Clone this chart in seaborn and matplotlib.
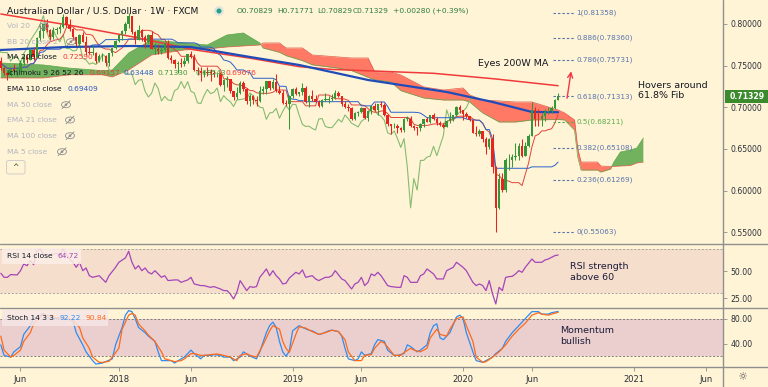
import numpy as np
import pandas as pd
import matplotlib
matplotlib.use("Agg")
import matplotlib.pyplot as plt
from matplotlib.patches import Rectangle, Ellipse, FancyBboxPatch
from matplotlib.lines import Line2D
from matplotlib.ticker import FormatStrFormatter
import seaborn as sns

sns.set_theme(style="white")
plt.rcParams["font.family"] = ["DejaVu Sans"]

# ---------------------------------------------------------------- data
week_start = "2017-04-24"
origin_week = "2017-05-01"
first_open = 0.7560

close = [0.7473, 0.7410, 0.7385, 0.7455, 0.7440, 0.7440, 0.7532, 0.7606, 0.7572, 0.7686,
         0.7600, 0.7837, 0.7915, 0.7999, 0.7928, 0.7840, 0.7928, 0.7944, 0.7963, 0.8085,
         0.7989, 0.7935, 0.7838, 0.7760, 0.7864, 0.7787, 0.7659, 0.7657, 0.7657, 0.7553,
         0.7610, 0.7610, 0.7527, 0.7646, 0.7710, 0.7801, 0.7863, 0.7921, 0.7998, 0.8100,
         0.7904, 0.7808, 0.7928, 0.7843, 0.7786, 0.7872, 0.7705, 0.7705, 0.7677, 0.7683,
         0.7758, 0.7588, 0.7568, 0.7517, 0.7534, 0.7514, 0.7556, 0.7636, 0.7606, 0.7448,
         0.7439, 0.7407, 0.7428, 0.7415, 0.7413, 0.7398, 0.7399, 0.7272, 0.7323, 0.7335,
         0.7193, 0.7124, 0.7168, 0.7292, 0.7225, 0.7076, 0.7131, 0.7089, 0.7080, 0.7200,
         0.7222, 0.7310, 0.7228, 0.7308, 0.7191, 0.7173, 0.7053, 0.7045, 0.7140, 0.7214,
         0.7164, 0.7180, 0.7232, 0.7068, 0.7140, 0.7096, 0.7067, 0.7010, 0.7088, 0.7093,
         0.7100, 0.7107, 0.7172, 0.7139, 0.7045, 0.7001, 0.6994, 0.6855, 0.6932, 0.6940,
         0.6987, 0.6869, 0.6951, 0.7020, 0.6968, 0.7036, 0.7033, 0.6906, 0.6795, 0.6770,
         0.6773, 0.6746, 0.6728, 0.6860, 0.6865, 0.6771, 0.6757, 0.6756, 0.6803, 0.6856,
         0.6823, 0.6908, 0.6862, 0.6809, 0.6788, 0.6764, 0.6832, 0.6862, 0.6902, 0.7009,
         0.6962, 0.6915, 0.6892, 0.6843, 0.6694, 0.6675, 0.6716, 0.6625, 0.6518, 0.6624,
         0.6283, 0.5793, 0.6145, 0.6006, 0.6362, 0.6363, 0.6402, 0.6414, 0.6532, 0.6419,
         0.6539, 0.6660, 0.6969, 0.6856, 0.6855, 0.6899, 0.6945, 0.6952, 0.6995, 0.70829,
         0.71329]
high = [0.7608, 0.7485, 0.7425, 0.7475, 0.7517, 0.7480, 0.7565, 0.7635, 0.7636, 0.7713,
        0.7720, 0.7839, 0.7990, 0.8000, 0.8065, 0.7940, 0.7960, 0.7960, 0.8000, 0.8125,
        0.8100, 0.8060, 0.7950, 0.7840, 0.7880, 0.7898, 0.7850, 0.7730, 0.7730, 0.7660,
        0.7635, 0.7650, 0.7630, 0.7650, 0.7715, 0.7812, 0.7870, 0.7925, 0.8020, 0.8136,
        0.8100, 0.7920, 0.7989, 0.7935, 0.7870, 0.7875, 0.7917, 0.7775, 0.7760, 0.7720,
        0.7780, 0.7812, 0.7630, 0.7580, 0.7550, 0.7590, 0.7605, 0.7640, 0.7677, 0.7640,
        0.7480, 0.7480, 0.7450, 0.7485, 0.7455, 0.7450, 0.7410, 0.7420, 0.7345, 0.7380,
        0.7330, 0.7200, 0.7240, 0.7310, 0.7315, 0.7230, 0.7160, 0.7150, 0.7130, 0.7260,
        0.7260, 0.7315, 0.7320, 0.7340, 0.7395, 0.7250, 0.7210, 0.7090, 0.7145, 0.7235,
        0.7240, 0.7185, 0.7295, 0.7250, 0.7150, 0.7205, 0.7150, 0.7090, 0.7105, 0.7170,
        0.7140, 0.7160, 0.7206, 0.7190, 0.7140, 0.7070, 0.7040, 0.7000, 0.6940, 0.6960,
        0.7000, 0.6990, 0.6970, 0.7020, 0.7050, 0.7040, 0.7080, 0.7050, 0.6920, 0.6800,
        0.6810, 0.6800, 0.6760, 0.6870, 0.6895, 0.6890, 0.6790, 0.6765, 0.6810, 0.6860,
        0.6880, 0.6910, 0.6930, 0.6880, 0.6830, 0.6810, 0.6845, 0.6940, 0.6910, 0.7020,
        0.7030, 0.6970, 0.6940, 0.6890, 0.6850, 0.6770, 0.6740, 0.6720, 0.6640, 0.6630,
        0.6685, 0.6300, 0.6215, 0.6210, 0.6390, 0.6445, 0.6440, 0.6570, 0.6570, 0.6615,
        0.6580, 0.6685, 0.7064, 0.7000, 0.6975, 0.6930, 0.6975, 0.7000, 0.7010, 0.7100,
        0.71771]
low = [0.7450, 0.7385, 0.7329, 0.7370, 0.7420, 0.7375, 0.7430, 0.7510, 0.7530, 0.7565,
       0.7570, 0.7595, 0.7790, 0.7830, 0.7905, 0.7807, 0.7820, 0.7880, 0.7891, 0.7950,
       0.7962, 0.7910, 0.7810, 0.7733, 0.7740, 0.7780, 0.7625, 0.7640, 0.7625, 0.7532,
       0.7540, 0.7550, 0.7500, 0.7500, 0.7620, 0.7700, 0.7785, 0.7810, 0.7880, 0.7955,
       0.7885, 0.7759, 0.7810, 0.7800, 0.7712, 0.7767, 0.7695, 0.7640, 0.7645, 0.7645,
       0.7670, 0.7575, 0.7535, 0.7470, 0.7412, 0.7480, 0.7500, 0.7530, 0.7590, 0.7440,
       0.7385, 0.7310, 0.7360, 0.7380, 0.7310, 0.7360, 0.7360, 0.7260, 0.7200, 0.7240,
       0.7170, 0.7085, 0.7100, 0.7160, 0.7200, 0.7040, 0.7020, 0.7040, 0.7020, 0.7060,
       0.7160, 0.7165, 0.7210, 0.7220, 0.7180, 0.7165, 0.7040, 0.7015, 0.6740, 0.7110,
       0.7150, 0.7140, 0.7150, 0.7055, 0.7000, 0.7070, 0.7060, 0.7000, 0.7000, 0.7070,
       0.7050, 0.7080, 0.7095, 0.7120, 0.7010, 0.6990, 0.6960, 0.6850, 0.6850, 0.6900,
       0.6930, 0.6865, 0.6832, 0.6925, 0.6960, 0.6910, 0.7000, 0.6895, 0.6770, 0.6675,
       0.6750, 0.6690, 0.6700, 0.6700, 0.6840, 0.6760, 0.6725, 0.6670, 0.6720, 0.6760,
       0.6820, 0.6810, 0.6850, 0.6790, 0.6770, 0.6755, 0.6760, 0.6810, 0.6840, 0.6890,
       0.6930, 0.6850, 0.6870, 0.6830, 0.6690, 0.6660, 0.6660, 0.6585, 0.6435, 0.6500,
       0.6215, 0.5506, 0.5780, 0.5980, 0.5980, 0.6250, 0.6285, 0.6370, 0.6370, 0.6400,
       0.6420, 0.6520, 0.6650, 0.6780, 0.6780, 0.6780, 0.6830, 0.6925, 0.6930, 0.6980,
       0.70829]

ma200_wk = [-1, 20, 39, 58, 75, 90, 100, 131, 150, 169]
ma200 = [0.8120, 0.7985, 0.7848, 0.7690, 0.7590, 0.7488, 0.7455, 0.7408, 0.7340, 0.7259]
ema110_wk = [-1, 19, 39, 57, 75, 90, 111, 125, 135, 149, 161, 169]
ema110 = [0.7688, 0.7724, 0.7736, 0.7724, 0.7604, 0.7508, 0.7328, 0.7244, 0.7184, 0.7064, 0.6944, 0.69409]

cloud_wk = [-1, 12, 20, 30, 33, 38, 45, 55, 62, 68,
            73, 78, 79, 84, 86, 91, 94, 102, 106, 111,
            113, 118, 121, 128, 134, 140, 142, 146, 151, 156,
            161, 169, 171, 174, 175, 176, 181, 182, 185, 186,
            188, 191, 193, 195]
lead_a = [0.7532, 0.7508, 0.7470, 0.7440, 0.7448, 0.7652, 0.7808, 0.7772, 0.7748, 0.7868,
          0.7892, 0.7772, 0.7712, 0.7660, 0.7620, 0.7560, 0.7510, 0.7470, 0.7440, 0.7360,
          0.7330, 0.7304, 0.7200, 0.7112, 0.7088, 0.7088, 0.7064, 0.6932, 0.6824, 0.6824,
          0.6848, 0.6854, 0.6848, 0.6727, 0.6400, 0.6247, 0.6247, 0.6223, 0.6260, 0.6340,
          0.6463, 0.6487, 0.6511, 0.6631]
lead_b = [0.7352, 0.7352, 0.7390, 0.7390, 0.7364, 0.7448, 0.7628, 0.7688, 0.7700, 0.7724,
          0.7736, 0.7748, 0.7772, 0.7772, 0.7712, 0.7712, 0.7628, 0.7604, 0.7592, 0.7592,
          0.7430, 0.7424, 0.7388, 0.7244, 0.7208, 0.7232, 0.7148, 0.7088, 0.7076, 0.7064,
          0.7064, 0.6968, 0.6932, 0.6848, 0.6500, 0.6343, 0.6343, 0.6295, 0.6290, 0.6290,
          0.6295, 0.6300, 0.6331, 0.6343]

rsi_wk = [-1, 0, 1, 2, 4, 5, 6, 7, 8, 9, 10, 11, 12, 13, 14, 16, 17, 18, 20, 21,
          22, 23, 24, 25, 26, 27, 29, 30, 31, 32, 34, 35, 37, 38, 39, 40, 41, 42, 43, 44,
          45, 46, 48, 49, 50, 52, 53, 54, 56, 57, 58, 60, 61, 62, 63, 64, 66, 67, 68, 69,
          70, 71, 72, 73, 74, 75, 76, 77, 78, 79, 80, 81, 82, 83, 84, 85, 86, 87, 89, 90,
          91, 92, 94, 95, 96, 98, 99, 100, 101, 103, 104, 106, 107, 108, 109, 110, 111, 112, 113, 114,
          115, 117, 118, 120, 121, 122, 123, 124, 126, 127, 128, 129, 131, 132, 134, 135, 137, 138, 140, 141,
          143, 144, 145, 146, 147, 148, 149, 150, 151, 152, 153, 154, 155, 156, 157, 158, 159, 161, 162, 164,
          165, 166, 168, 169]
rsi = [47.9, 44.2, 44.2, 46.7, 46.4, 50.3, 56.5, 54.9, 59.5, 55.8, 68.7, 70.2, 65.6, 64.1, 65.0, 66.2, 64.1, 70.2, 61.0, 58.0,
       53.4, 58.0, 50.3, 52.8, 45.7, 44.2, 45.7, 42.7, 39.6, 45.7, 53.4, 58.0, 62.0, 68.1, 58.0, 51.9, 54.9, 50.3, 52.8, 48.8,
       47.3, 50.3, 44.2, 45.7, 41.2, 41.8, 41.8, 39.6, 41.8, 44.2, 38.1, 36.6, 36.6, 35.7, 35.0, 35.7, 33.5, 32.0, 32.0, 28.9,
       24.3, 30.5, 41.2, 36.6, 32.0, 35.7, 35.0, 35.7, 44.2, 47.9, 51.9, 45.7, 50.3, 45.7, 42.7, 38.1, 38.8, 43.5, 48.8, 47.3,
       51.0, 44.2, 45.7, 42.7, 41.2, 44.2, 44.2, 45.7, 50.3, 42.7, 41.2, 33.5, 38.1, 39.6, 44.2, 36.6, 39.6, 47.3, 45.7, 48.8,
       45.7, 36.6, 35.7, 35.0, 35.0, 45.7, 44.2, 39.6, 39.6, 45.7, 47.3, 51.9, 47.3, 42.7, 42.7, 50.3, 53.4, 58.0, 53.4, 50.3,
       39.6, 36.6, 38.1, 36.6, 32.0, 41.2, 28.9, 19.7, 35.0, 32.0, 44.2, 44.8, 45.1, 47.3, 50.3, 48.8, 53.4, 61.0, 58.0, 58.0,
       60.1, 61.0, 64.1, 64.72]

stoch_k_wk = [-1, 0, 2, 3, 5, 6, 8, 9, 11, 12,
              13, 14, 16, 17, 19, 21, 22, 24, 25, 27,
              28, 30, 31, 33, 34, 36, 37, 38, 39, 40,
              41, 43, 44, 46, 47, 48, 49, 51, 52, 54,
              55, 57, 58, 60, 61, 63, 64, 66, 67, 69,
              70, 72, 73, 75, 77, 78, 80, 81, 82, 83,
              84, 85, 86, 87, 88, 90, 91, 93, 94, 96,
              97, 99, 100, 102, 103, 104, 105, 107, 108, 109,
              110, 112, 113, 114, 116, 117, 119, 120, 122, 123,
              124, 126, 127, 129, 130, 131, 132, 133, 134, 136,
              138, 139, 140, 141, 143, 144, 146, 147, 149, 150,
              152, 153, 155, 157, 159, 161, 163, 164, 166, 167,
              169]
stoch_k = [38.1, 21.1, 18.3, 26.8, 35.3, 55.1, 69.2, 80.6, 86.2, 89.1,
           83.4, 80.6, 80.6, 80.6, 80.6, 77.7, 57.9, 38.1, 26.8, 12.6,
           7.0, 8.7, 10.9, 15.5, 38.1, 66.4, 86.2, 93.6, 91.9, 80.6,
           66.4, 57.9, 52.3, 43.8, 26.8, 12.6, 12.6, 12.6, 8.7, 15.5,
           18.3, 29.6, 24.0, 15.5, 21.1, 21.1, 22.3, 21.1, 18.3, 18.3,
           12.6, 18.3, 26.8, 20.0, 15.5, 26.8, 57.9, 69.2, 74.9, 66.4,
           43.8, 26.8, 19.7, 28.0, 60.8, 69.2, 66.4, 61.9, 60.8, 55.1,
           56.2, 60.8, 61.9, 59.6, 52.3, 32.5, 15.5, 12.6, 15.5, 26.8,
           21.1, 24.0, 38.1, 46.6, 43.8, 29.6, 21.1, 21.1, 24.0, 38.1,
           35.3, 26.8, 29.6, 38.1, 57.9, 69.2, 72.1, 49.4, 46.6, 57.9,
           83.4, 86.2, 80.6, 57.9, 26.8, 12.6, 9.8, 12.6, 18.3, 24.0,
           32.5, 43.8, 57.9, 69.2, 80.6, 91.9, 91.9, 87.9, 87.9, 90.2,
           92.22]
stoch_d_wk = [-1, 0, 2, 3, 5, 6, 8, 9, 11, 12,
              14, 16, 19, 21, 23, 24, 26, 27, 29, 30,
              32, 33, 35, 36, 38, 39, 40, 41, 43, 44,
              46, 48, 49, 51, 52, 54, 55, 57, 58, 60,
              61, 63, 65, 67, 69, 71, 72, 74, 75, 77,
              79, 81, 82, 84, 85, 86, 87, 89, 90, 92,
              94, 96, 98, 100, 102, 104, 105, 107, 109, 110,
              112, 113, 115, 116, 118, 119, 121, 122, 124, 125,
              127, 129, 130, 132, 133, 135, 136, 138, 140, 141,
              143, 144, 146, 147, 149, 151, 153, 155, 157, 159,
              161, 163, 164, 166, 167, 169]
stoch_d = [52.3, 29.6, 18.3, 21.1, 29.6, 43.8, 57.9, 72.1, 83.4, 87.9,
           84.5, 82.3, 80.6, 77.7, 66.4, 49.4, 32.5, 18.3, 9.8, 9.8,
           11.5, 18.3, 32.5, 63.6, 86.2, 89.1, 86.2, 72.1, 60.8, 54.0,
           43.8, 26.8, 15.5, 12.6, 10.9, 12.6, 15.5, 24.0, 24.0, 21.1,
           21.1, 22.3, 23.4, 21.1, 18.3, 12.6, 21.1, 24.0, 21.1, 18.3,
           38.1, 60.8, 69.2, 63.6, 43.8, 32.5, 26.0, 55.1, 67.5, 65.3,
           59.6, 55.1, 57.9, 61.9, 59.6, 46.6, 26.8, 12.6, 12.6, 21.1,
           22.3, 32.5, 43.8, 40.9, 27.9, 21.1, 21.1, 25.7, 32.5, 29.6,
           26.8, 32.5, 49.4, 63.6, 55.1, 52.3, 63.6, 80.6, 83.4, 69.2,
           43.8, 18.3, 9.8, 10.9, 18.3, 26.8, 38.1, 52.3, 63.6, 73.2,
           86.2, 90.2, 87.9, 86.2, 87.9, 90.84]

fib_ratio = ["1", "0.886", "0.786", "0.618", "0.5", "0.382", "0.236", "0"]
fib_price = [0.81358, 0.78360, 0.75731, 0.71313, 0.68211, 0.65108, 0.61269, 0.55063]

tick_dates = ["2017-06-05", "2018-01-01", "2018-06-04", "2019-01-07", "2019-06-03",
              "2020-01-06", "2020-06-01", "2021-01-04", "2021-06-07"]
tick_labels = ["Jun", "2018", "Jun", "2019", "Jun", "2020", "Jun", "2021", "Jun"]

price_ticks = [0.55, 0.60, 0.65, 0.70, 0.75, 0.80]
last_price = 0.71329

# ---------------------------------------------------------------- derived
origin = pd.Timestamp(origin_week)
dates = pd.date_range(week_start, periods=len(close), freq="7D")
wk = ((dates - origin).days // 7).astype(int)
df = pd.DataFrame({"wk": wk, "open": [first_open] + close[:-1],
                   "close": close, "high": high, "low": low})
tenkan = (df["high"].rolling(9, min_periods=1).max() + df["low"].rolling(9, min_periods=1).min()) / 2
kijun = (df["high"].rolling(26, min_periods=1).max() + df["low"].rolling(26, min_periods=1).min()) / 2
tick_pos = [(pd.Timestamp(d) - origin).days / 7 for d in tick_dates]

# ---------------------------------------------------------------- layout
W, H = 768, 387
BG = "#fff4d6"
def fx(px): return px / W
def fy(py): return 1 - py / H

fig = plt.figure(figsize=(W / 100, H / 100), dpi=100, facecolor=BG)
XL = (-1.25, 219.3)
ax = fig.add_axes([0, fy(244), fx(723), 244 / H])
ax_r = fig.add_axes([0, fy(307.7), fx(723), 63.7 / H])
ax_s = fig.add_axes([0, fy(366.7), fx(723), 59 / H])
ax.set_ylim(0.5359, 0.8288)
ax_r.set_ylim(16.3, 74.8)
ax_s.set_ylim(2.75, 98.3)

GREEN_C = "#35973a"
RED_C = "#e5261e"
LK = dict(sort=False, estimator=None, legend=False)

# Ichimoku cloud
ca, cb = np.array(lead_a), np.array(lead_b)
ax.fill_between(cloud_wk, ca, cb, where=ca >= cb, interpolate=True, color="#4b9e3b", alpha=0.78, lw=0, zorder=1)
ax.fill_between(cloud_wk, ca, cb, where=ca < cb, interpolate=True, color="#ff4a3a", alpha=0.72, lw=0, zorder=1)
sns.lineplot(x=cloud_wk, y=lead_a, ax=ax, color="#5aa84a", lw=0.5, zorder=1.5, **LK)
sns.lineplot(x=cloud_wk, y=lead_b, ax=ax, color="#e05a4a", lw=0.5, zorder=1.5, **LK)

# lagging span, conversion, base
lag = df[df["wk"] - 26 >= -2]
sns.lineplot(x=lag["wk"] - 26, y=lag["close"], ax=ax, color="#86bb70", lw=0.8, zorder=2, **LK)
sns.lineplot(x=df["wk"], y=tenkan, ax=ax, color="#e0443a", lw=0.7, zorder=2.5, **LK)
sns.lineplot(x=df["wk"], y=kijun, ax=ax, color="#2a62c9", lw=0.7, zorder=2.5, **LK)

# MA 200 and EMA 110
sns.lineplot(x=ma200_wk, y=ma200, ax=ax, color="#f03a3a", lw=1.1, zorder=3, **LK)
sns.lineplot(x=ema110_wk, y=ema110, ax=ax, color="#1f4cb8", lw=1.6, zorder=3, **LK)

# candles
up = df["close"] >= df["open"]
cols = np.where(up, GREEN_C, RED_C)
ax.vlines(df["wk"], df["low"], df["high"], colors=cols, lw=0.75, zorder=4)
body_lo = np.minimum(df["open"], df["close"])
body_h = np.maximum(np.abs(df["close"] - df["open"]), 0.0007)
ax.bar(df["wk"], body_h, bottom=body_lo, width=0.74, color=cols, lw=0, zorder=5)

# Fibonacci levels
for r, p in zip(fib_ratio, fib_price):
    c = "#5cae4a" if r == "0.5" else "#5874ad"
    ax.plot([167.3, 174.1], [p, p], ls=(0, (2.2, 1.8)), color=c, lw=0.8, zorder=3)
    ax.text(174.6, p, f"{r}({p:.5f})", fontsize=5.2, color=c, va="center", ha="left", zorder=6)

# arrow
ax.annotate("", xy=(173.1, 0.7465), xytext=(171.6, 0.7076),
            arrowprops=dict(arrowstyle="->", color="#f23645", lw=1.0, mutation_scale=9), zorder=6)

# RSI panel
ax_r.axhspan(30, 70, color="#c0508a", alpha=0.13, lw=0, zorder=0)
for lv in (30, 70):
    ax_r.axhline(lv, color="#9a9a9a", lw=0.6, ls=(0, (2.5, 2)), zorder=1)
sns.lineplot(x=rsi_wk, y=rsi, ax=ax_r, color="#a445b8", lw=0.9, zorder=3, **LK)

# Stoch panel
ax_s.axhspan(20, 80, color="#9c3fb0", alpha=0.2, lw=0, zorder=0)
for lv in (20, 80):
    ax_s.axhline(lv, color="#707070", lw=0.6, ls=(0, (2.5, 2)), zorder=1)
sns.lineplot(x=stoch_k_wk, y=stoch_k, ax=ax_s, color="#2f8cf0", lw=0.9, zorder=3, **LK)
sns.lineplot(x=stoch_d_wk, y=stoch_d, ax=ax_s, color="#ff6a1a", lw=0.9, zorder=3, **LK)

# axes cosmetics
for a in (ax, ax_r, ax_s):
    a.set_facecolor("none")
    a.set_xlim(*XL)
    a.set_xlabel("")
    a.set_ylabel("")
    for s in a.spines.values():
        s.set_visible(False)
    a.yaxis.tick_right()
    a.tick_params(axis="y", right=True, left=False, length=3, width=0.6, color="#8c8c8c",
                  labelsize=5.6, labelcolor="#2a2e39", pad=2.5)

ax.set_yticks(price_ticks)
ax.yaxis.set_major_formatter(FormatStrFormatter("%.5f"))
ax.set_xticks([])
ax_r.set_yticks([25, 50])
ax_r.set_yticklabels(["25.00", "50.00"])
ax_r.set_xticks([])
ax_s.set_yticks([40, 80])
ax_s.set_yticklabels(["40.00", "80.00"])
ax_s.set_xticks(tick_pos)
ax_s.set_xticklabels(tick_labels)
ax_s.tick_params(axis="x", bottom=True, length=3, width=0.6, color="#8c8c8c", labelsize=6, labelcolor="#2a2e39", pad=3)

# separators
for yy in (244, 307.7, 366.7):
    fig.add_artist(Line2D([0, 1], [fy(yy)] * 2, transform=fig.transFigure, color="#8f8f8f", lw=1.0))
fig.add_artist(Line2D([fx(723)] * 2, [0, 1], transform=fig.transFigure, color="#8f8f8f", lw=1.0))

# last-price box
fig.add_artist(Rectangle((fx(724.5), fy(102.5)), fx(768 - 724.5), 12.5 / H, transform=fig.transFigure,
                         color="#3b8a2e", lw=0))
fig.text(fx(729.5), fy(96.3), f"{last_price:.5f}", fontsize=5.6, color="white", fontweight="bold",
         va="center", ha="left")

# ---------------------------------------------------------------- texts
DARK = "#131722"
GREY = "#b2b5be"
def t(xp, yp, s, size=5.4, color=DARK, **kw):
    fig.text(fx(xp), fy(yp), s, fontsize=size, color=color, va="center", ha="left", **kw)

def eye(xp, yp):
    ic = "#8e8e8e"
    fig.add_artist(Ellipse((fx(xp), fy(yp)), 9 / W, 6 / H, transform=fig.transFigure, fill=False, ec=ic, lw=0.6))
    fig.add_artist(Ellipse((fx(xp), fy(yp)), 2.6 / W, 2.6 / H, transform=fig.transFigure, fc=ic, ec="none"))
    fig.add_artist(Line2D([fx(xp - 4), fx(xp + 4)], [fy(yp + 4), fy(yp - 4)], transform=fig.transFigure, color=ic, lw=0.6))

t(6.7, 11, "Australian Dollar / U.S. Dollar · 1W · FXCM", size=6.6)
fig.add_artist(Ellipse((fx(219), fy(11)), 10 / W, 10 / H, transform=fig.transFigure, fc="#e4e4dc", ec="none"))
fig.add_artist(Ellipse((fx(219), fy(11)), 5 / W, 5 / H, transform=fig.transFigure, fc="#22a08a", ec="none"))
ohlc_col = "#2f7d3c"
t(237, 11, "O0.70829", color=ohlc_col)
t(277, 11, "H0.71771", color=ohlc_col)
t(317, 11, "L0.70829", color=ohlc_col)
t(353, 11, "C0.71329", color=ohlc_col)
t(393, 11, "+0.00280 (+0.39%)", color=ohlc_col)

t(6.7, 26, "Vol 20", color=GREY); eye(44, 26)
t(6.7, 41.7, "BB 20 close 2", color=GREY); eye(71, 41.7)
t(6.7, 57.3, "MA 200 close"); t(62.7, 57.3, "0.72590", color="#f03a3a")
t(6.7, 72.7, "Ichimoku 9 26 52 26")
t(90, 72.7, "0.69157", color="#e0443a")
t(123, 72.7, "0.63448", color="#2a62c9")
t(157, 72.7, "0.71330", color="#3f9a3a")
t(195, 72.7, "0.68543", color="#3f9a3a")
t(226, 72.7, "0.69676", color="#f03a3a")
t(6.7, 89, "EMA 110 close"); t(67.3, 89, "0.69409", color="#2a55c0")
t(6.7, 104.7, "MA 50 close", color=GREY); eye(66, 104.7)
t(6.7, 120, "EMA 21 close", color=GREY); eye(70, 120)
t(6.7, 135.7, "MA 100 close", color=GREY); eye(70, 135.7)
t(6.7, 151.7, "MA 5 close", color=GREY); eye(62, 151.7)
fig.add_artist(FancyBboxPatch((fx(6.5), fy(174)), fx(18.5), 13.5 / H, boxstyle="round,pad=0,rounding_size=0.004",
                              transform=fig.transFigure, fc="none", ec="#c8c8c8", lw=0.6))
fig.text(fx(15.7), fy(167.5), "^", fontsize=5.5, color="#444", ha="center", va="center")

t(477.5, 63.5, "Eyes 200W MA", size=6.8)
t(638, 85, "Hovers around", size=6.8)
t(638, 96, "61.8% Fib", size=6.8)
t(569.5, 266.7, "RSI strength", size=6.8, color="#1c1c3a")
t(569.5, 277.8, "above 60", size=6.8, color="#1c1c3a")
t(560, 330.7, "Momentum", size=6.8, color="#1c1c3a")
t(560, 341.7, "bullish", size=6.8, color="#1c1c3a")

# panel legends
fig.add_artist(Rectangle((fx(2), fy(264)), fx(79), 16 / H, transform=fig.transFigure, fc="#fbefe6", ec="none", alpha=0.85))
t(6.7, 256, "RSI 14 close")
t(58, 256, "64.72", color="#a445b8")
fig.add_artist(Rectangle((fx(2), fy(326)), fx(106), 16 / H, transform=fig.transFigure, fc="#f6e6e6", ec="none", alpha=0.85))
t(6.7, 318, "Stoch 14 3 3")
t(60, 318, "92.22", color="#2f8cf0")
t(85, 318, "90.84", color="#ff6a1a")

fig.text(fx(742), fy(377), "☼", fontsize=8, color="#555", ha="center", va="center")

fig.savefig("out.png", dpi=100, facecolor=BG)
